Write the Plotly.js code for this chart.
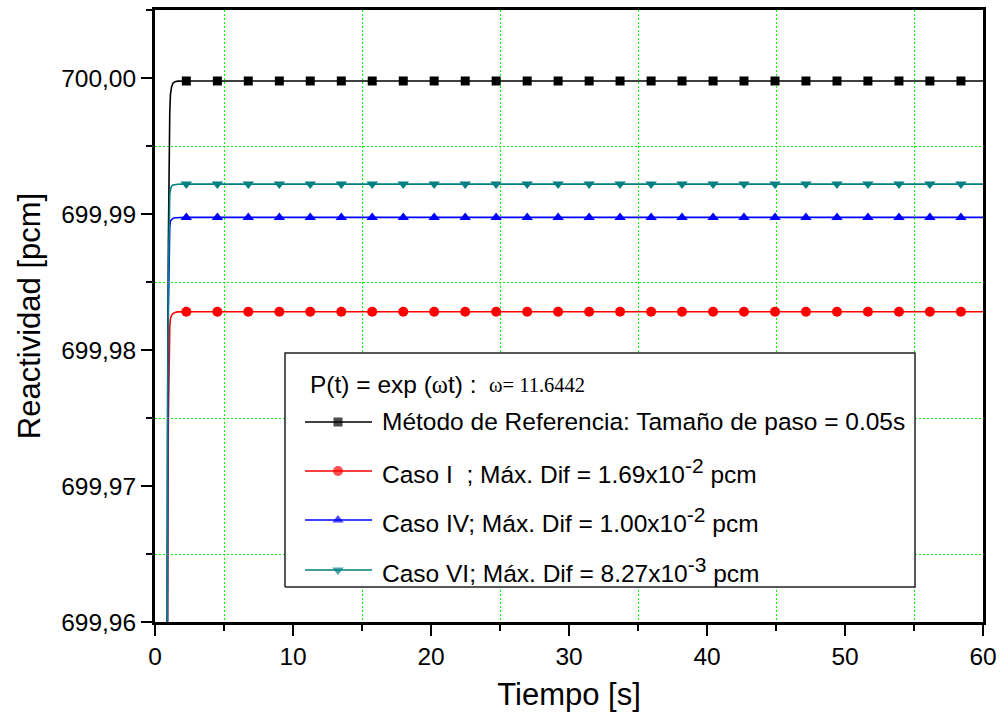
<!DOCTYPE html>
<html>
<head>
<meta charset="utf-8">
<script src="https://cdn.plot.ly/plotly-3.0.1.min.js"></script>
<style>
  html, body { margin: 0; padding: 0; background: #ffffff; }
  #chart { width: 1003px; height: 720px; }
</style>
</head>
<body>
<div id="chart"></div>
<script>
// Time samples [s]: start-up transient, sampled points shown with symbols, end of run
const tRise = [0.80, 0.86, 0.92, 0.97, 1.00, 1.03, 1.07, 1.12, 1.20, 1.30, 1.45, 1.65, 1.90];
const tMarks = [2.27, 4.52, 6.76, 9.01, 11.25, 13.50, 15.74, 17.99, 20.23, 22.48, 24.72, 26.97, 29.21,
                31.46, 33.70, 35.95, 38.19, 40.44, 42.68, 44.93, 47.17, 49.42, 51.66, 53.91, 56.15, 58.40];
const tEnd = [60];

// Reactividad [pcm] – reference method (step 0.05 s)
const refRise = [699.900, 699.955, 699.978, 699.988, 699.9925, 699.9955, 699.9975, 699.9988, 699.99935, 699.99962, 699.99973, 699.99977, 699.99978];
const refMarks = [699.99978, 699.99978, 699.99978, 699.99978, 699.99978, 699.99978, 699.99978, 699.99978, 699.99978,
                  699.99978, 699.99978, 699.99978, 699.99978, 699.99978, 699.99978, 699.99978, 699.99978, 699.99978,
                  699.99978, 699.99978, 699.99978, 699.99978, 699.99978, 699.99978, 699.99978, 699.99978];
const refEnd = [699.99978];

// Caso I
const c1Rise = [699.900, 699.945, 699.966, 699.975, 699.9785, 699.9805, 699.9817, 699.9823, 699.98255, 699.98268, 699.98276, 699.98280, 699.98281];
const c1Marks = [699.98281, 699.98281, 699.98281, 699.98281, 699.98281, 699.98281, 699.98281, 699.98281, 699.98281,
                 699.98281, 699.98281, 699.98281, 699.98281, 699.98281, 699.98281, 699.98281, 699.98281, 699.98281,
                 699.98281, 699.98281, 699.98281, 699.98281, 699.98281, 699.98281, 699.98281, 699.98281];
const c1End = [699.98281];

// Caso IV
const c4Rise = [699.900, 699.950, 699.974, 699.983, 699.9865, 699.9882, 699.9891, 699.9895, 699.98962, 699.98968, 699.98972, 699.98974, 699.98975];
const c4Marks = [699.98975, 699.98975, 699.98975, 699.98975, 699.98975, 699.98975, 699.98975, 699.98975, 699.98975,
                 699.98975, 699.98975, 699.98975, 699.98975, 699.98975, 699.98975, 699.98975, 699.98975, 699.98975,
                 699.98975, 699.98975, 699.98975, 699.98975, 699.98975, 699.98975, 699.98975, 699.98975];
const c4End = [699.98975];

// Caso VI
const c6Rise = [699.900, 699.952, 699.976, 699.9855, 699.989, 699.9906, 699.9914, 699.9918, 699.99205, 699.99213, 699.99217, 699.99219, 699.99220];
const c6Marks = [699.99220, 699.99220, 699.99220, 699.99220, 699.99220, 699.99220, 699.99220, 699.99220, 699.99220,
                 699.99220, 699.99220, 699.99220, 699.99220, 699.99220, 699.99220, 699.99220, 699.99220, 699.99220,
                 699.99220, 699.99220, 699.99220, 699.99220, 699.99220, 699.99220, 699.99220, 699.99220];
const c6End = [699.99220];

// Legend texts
const legendTitle = 'P(t) = exp (<span style="font-family:\'Liberation Serif\'">ω</span>t) :';
const legendOmega = 'ω= 11.6442';
const supExp = (e) => '<sup><span style="font-size:21px">' + e + '</span></sup>';
const seriesNames = [
  'Método de Referencia: Tamaño de paso = 0.05s',
  'Caso I  ; Máx. Dif = 1.69x10' + supExp('-2') + ' pcm',
  'Caso IV; Máx. Dif = 1.00x10' + supExp('-2') + ' pcm',
  'Caso VI; Máx. Dif = 8.27x10' + supExp('-3') + ' pcm'
];

const styles = [
  { color: '#000000', symbol: 'square', size: 9 },
  { color: '#ff0000', symbol: 'circle', size: 10 },
  { color: '#0000ff', symbol: 'triangle-up', size: 10 },
  { color: '#008080', symbol: 'triangle-down', size: 10 }
];

const series = [
  { rise: refRise, marks: refMarks, end: refEnd },
  { rise: c1Rise, marks: c1Marks, end: c1End },
  { rise: c4Rise, marks: c4Marks, end: c4End },
  { rise: c6Rise, marks: c6Marks, end: c6End }
];

const sansFont = 'Liberation Sans, Arial, sans-serif';
const serifFont = 'Liberation Serif, Times New Roman, serif';

const traces = [];
// curves first, symbols on top
series.forEach((s, i) => {
  traces.push({
    x: tRise.concat(tMarks, tEnd),
    y: s.rise.concat(s.marks, s.end),
    type: 'scatter', mode: 'lines',
    line: { color: styles[i].color, width: 1.6 },
    hoverinfo: 'skip', showlegend: false
  });
});
series.forEach((s, i) => {
  traces.push({
    x: tMarks, y: s.marks,
    type: 'scatter', mode: 'markers',
    marker: { color: styles[i].color, symbol: styles[i].symbol, size: styles[i].size, line: { width: 0 } },
    hoverinfo: 'skip', showlegend: false
  });
});

// Legend panel drawn on an overlay axis spanning the plot area in [0,1]
const box = { x0: 0.1570, x1: 0.9179, y0: 0.0572, y1: 0.4395 };
traces.push({
  x: [box.x0, box.x1, box.x1, box.x0, box.x0],
  y: [box.y0, box.y0, box.y1, box.y1, box.y0],
  xaxis: 'x2', yaxis: 'y2', type: 'scatter', mode: 'lines',
  fill: 'toself', fillcolor: '#ffffff',
  line: { color: '#222222', width: 1.5 },
  hoverinfo: 'skip', showlegend: false
});
const rowY = [0.3268, 0.2467, 0.1667, 0.0850];
const sampleX = [0.1812, 0.2210, 0.2621];
styles.forEach((st, i) => {
  traces.push({
    x: sampleX, y: [rowY[i], rowY[i], rowY[i]],
    xaxis: 'x2', yaxis: 'y2', type: 'scatter', mode: 'lines+markers',
    line: { color: st.color, width: 1.5 },
    marker: { color: st.color, symbol: st.symbol, size: [0, st.size, 0], line: { width: 0 } },
    hoverinfo: 'skip', showlegend: false
  });
});

const annotations = [
  {
    xref: 'paper', yref: 'paper', x: 0.1843, y: 0.3885, xanchor: 'left', yanchor: 'middle',
    text: legendTitle, showarrow: false,
    font: { family: sansFont, size: 24.5, color: '#000000' }
  },
  {
    xref: 'paper', yref: 'paper', x: 0.4010, y: 0.3865, xanchor: 'left', yanchor: 'middle',
    text: legendOmega, showarrow: false,
    font: { family: serifFont, size: 20.5, color: '#000000' }
  }
];
seriesNames.forEach((name, i) => {
  annotations.push({
    xref: 'paper', yref: 'paper', x: 0.2717, y: rowY[i], xanchor: 'left', yanchor: 'middle',
    text: name, showarrow: false,
    font: { family: sansFont, size: 24.5, color: '#000000' }
  });
});

// dotted bright-green grid at every 5 s and every 0.005 pcm
const gridStyle = { gridcolor: '#00ff00', griddash: '2px,2px', gridwidth: 1 };

const layout = {
  width: 1003, height: 720,
  // plot area 828 x 612 px: 69 px per 5 s, 68 px per 0.005 pcm
  margin: { l: 155, r: 20, t: 10, b: 98 },
  paper_bgcolor: '#ffffff', plot_bgcolor: '#ffffff',
  separators: ',.',
  font: { family: sansFont, size: 24, color: '#000000' },
  showlegend: false,
  xaxis: {
    range: [0, 60], tick0: 0, dtick: 10,
    showline: true, linecolor: '#000000', linewidth: 3, mirror: true,
    ticks: 'outside', ticklen: 11, tickwidth: 2.5, tickcolor: '#000000',
    showgrid: false,
    zeroline: false,
    tickfont: { family: sansFont, size: 24.5 },
    minor: { dtick: 5, ticks: 'outside', ticklen: 6, tickwidth: 2.5, tickcolor: '#000000', showgrid: true, ...gridStyle },
    title: { text: 'Tiempo [s]', font: { family: sansFont, size: 31 }, standoff: 14 }
  },
  yaxis: {
    range: [699.96, 700.005], tick0: 699.96, dtick: 0.01, tickformat: '.2f',
    showline: true, linecolor: '#000000', linewidth: 3, mirror: true,
    ticks: 'outside', ticklen: 11, tickwidth: 2.5, tickcolor: '#000000',
    showgrid: false,
    zeroline: false,
    tickfont: { family: sansFont, size: 24.5 },
    minor: { dtick: 0.005, ticks: 'outside', ticklen: 6, tickwidth: 2.5, tickcolor: '#000000', showgrid: true, ...gridStyle },
    title: { text: 'Reactividad [pcm]', font: { family: sansFont, size: 31 }, standoff: 12 }
  },
  xaxis2: { overlaying: 'x', range: [0, 1], visible: false, fixedrange: true },
  yaxis2: { overlaying: 'y', range: [0, 1], visible: false, fixedrange: true },
  annotations: annotations
};

Plotly.newPlot('chart', traces, layout, { staticPlot: true, displayModeBar: false });
</script>
</body>
</html>
